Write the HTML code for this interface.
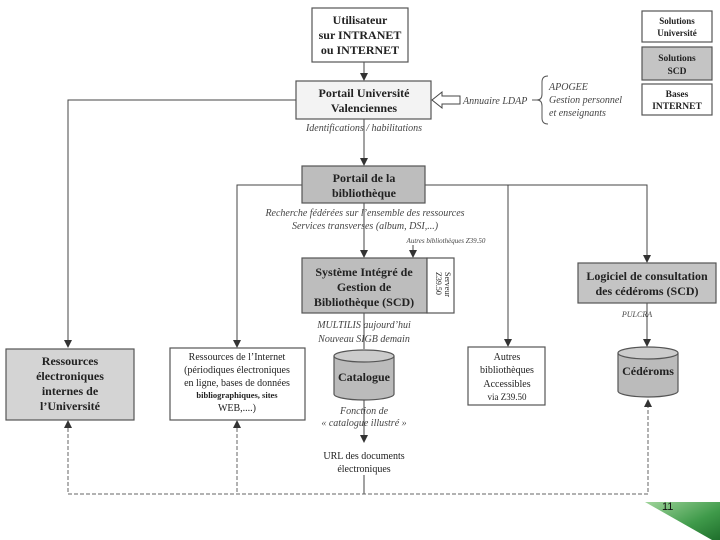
<!DOCTYPE html>
<html><head><meta charset="utf-8"><style>
html,body{margin:0;padding:0;background:#fff;}
svg{display:block;}
text{font-family:"Liberation Serif",serif;fill:#222;}
.b{font-weight:bold;font-size:12px;}
.i{font-style:italic;font-size:10px;fill:#444;}
.n{font-size:10px;}
</style></head><body>
<svg width="720" height="540" viewBox="0 0 720 540" xmlns="http://www.w3.org/2000/svg">
<defs>
<marker id="a" markerWidth="8" markerHeight="8" refX="7" refY="4" orient="auto" markerUnits="userSpaceOnUse"><path d="M0,0 L8,4 L0,8 z" fill="#333"/></marker>
<linearGradient id="g" x1="0" y1="0" x2="1" y2="1"><stop offset="0" stop-color="#9fd49a"/><stop offset="0.6" stop-color="#3f9a4a"/><stop offset="1" stop-color="#1f6f2c"/></linearGradient>
</defs>
<g stroke="#444" stroke-width="1" fill="none">
<line x1="364" y1="62" x2="364" y2="80" marker-end="url(#a)"/>
<line x1="364" y1="119" x2="364" y2="165" marker-end="url(#a)"/>
<line x1="364" y1="203" x2="364" y2="257" marker-end="url(#a)"/>
<line x1="413" y1="245" x2="413" y2="257" marker-end="url(#a)"/>
<line x1="364" y1="313" x2="364" y2="349"/>
<line x1="364" y1="400" x2="364" y2="442" marker-end="url(#a)"/>
<line x1="364" y1="475" x2="364" y2="494"/>
<polyline points="296,100 68,100 68,347" marker-end="url(#a)"/>
<polyline points="302,185 237,185 237,347" marker-end="url(#a)"/>
<polyline points="425,185 647,185 647,262" marker-end="url(#a)"/>
<line x1="508" y1="185" x2="508" y2="346" marker-end="url(#a)"/>
<line x1="647" y1="303" x2="647" y2="346" marker-end="url(#a)"/>
<g stroke-dasharray="4,2" stroke="#666">
<polyline points="68,422 68,494 648,494 648,400"/>
<line x1="237" y1="422" x2="237" y2="494"/>
</g>
</g>
<path d="M68,420 l-4,8 h8z M237,420 l-4,8 h8z M648,399 l-4,8 h8z" fill="#333"/>
<path d="M432,100 L442,92 L442,96 L460,96 L460,104 L442,104 L442,108 Z" fill="#fff" stroke="#444"/>
<g stroke="#555" stroke-width="1.2">
<rect x="312" y="8" width="96" height="54" fill="#fff"/>
<rect x="296" y="81" width="135" height="38" fill="#f3f3f3"/>
<rect x="302" y="166" width="123" height="37" fill="#bdbdbd"/>
<rect x="302" y="258" width="125" height="55" fill="#bdbdbd"/>
<rect x="427" y="258" width="27" height="55" fill="#fff"/>
<rect x="578" y="263" width="138" height="40" fill="#c4c4c4"/>
<rect x="6" y="349" width="128" height="71" fill="#d4d4d4"/>
<rect x="170" y="348" width="135" height="72" fill="#fff"/>
<rect x="468" y="347" width="77" height="58" fill="#fff"/>
<rect x="642" y="11" width="70" height="31" fill="#fff"/>
<rect x="642" y="47" width="70" height="33" fill="#c4c4c4"/>
<rect x="642" y="84" width="70" height="31" fill="#fff"/>
<path d="M334,356 v38 a30,6 0 0 0 60,0 v-38" fill="#bbb"/>
<ellipse cx="364" cy="356" rx="30" ry="6" fill="#ccc"/>
<path d="M618,353 v38 a30,6 0 0 0 60,0 v-38" fill="#bbb"/>
<ellipse cx="648" cy="353" rx="30" ry="6" fill="#ccc"/>
</g>
<path d="M548,76 q-6,0 -6,6 v12 q0,6 -5,6 q5,0 5,6 v12 q0,6 6,6" fill="none" stroke="#555"/>
<line x1="532" y1="100" x2="537" y2="100" stroke="#555"/>
<g text-anchor="middle">
<text class="b" x="360" y="24">Utilisateur</text>
<text class="b" x="360" y="39">sur INTRANET</text>
<text class="b" x="360" y="54">ou INTERNET</text>
<text class="b" x="364" y="97">Portail Université</text>
<text class="b" x="364" y="112">Valenciennes</text>
<text class="i" x="364" y="131">Identifications / habilitations</text>
<text class="b" x="364" y="182">Portail de la</text>
<text class="b" x="364" y="197">bibliothèque</text>
<text class="i" x="365" y="216">Recherche fédérées sur l’ensemble des ressources</text>
<text class="i" x="365" y="229">Services transverses (album, DSI,...)</text>
<text class="i" x="446" y="243" style="font-size:7px">Autres bibliothèques Z39.50</text>
<text class="b" x="364" y="276">Système Intégré de</text>
<text class="b" x="364" y="291">Gestion de</text>
<text class="b" x="364" y="306">Bibliothèque (SCD)</text>
<text class="b" x="647" y="280">Logiciel de consultation</text>
<text class="b" x="647" y="295">des cédéroms (SCD)</text>
<text class="i" x="637" y="317" style="font-size:8px">PULCRA</text>
<text class="i" x="364" y="328">MULTILIS aujourd’hui</text>
<text class="i" x="364" y="342">Nouveau SIGB demain</text>
<text class="b" x="364" y="381">Catalogue</text>
<text class="b" x="648" y="375">Cédéroms</text>
<text class="b" x="70" y="365">Ressources</text>
<text class="b" x="70" y="380">électroniques</text>
<text class="b" x="70" y="395">internes de</text>
<text class="b" x="70" y="410">l’Université</text>
<text class="n" x="237" y="360">Ressources de l’Internet</text>
<text class="n" x="237" y="373">(périodiques électroniques</text>
<text class="n" x="237" y="386">en ligne, bases de données</text>
<text class="n" x="237" y="398" style="font-size:8.5px;font-weight:bold">bibliographiques, sites</text>
<text class="n" x="237" y="411">WEB,....)</text>
<text class="n" x="507" y="360">Autres</text>
<text class="n" x="507" y="373">bibliothèques</text>
<text class="n" x="507" y="387">Accessibles</text>
<text class="n" x="507" y="400" style="font-size:9px">via Z39.50</text>
<text class="i" x="364" y="414">Fonction de</text>
<text class="i" x="364" y="426">« catalogue illustré »</text>
<text class="n" x="364" y="459">URL des documents</text>
<text class="n" x="364" y="472">électroniques</text>
<text class="b" x="677" y="24" style="font-size:9px">Solutions</text>
<text class="b" x="677" y="36" style="font-size:9px">Université</text>
<text class="b" x="677" y="61" style="font-size:9.5px">Solutions</text>
<text class="b" x="677" y="74" style="font-size:9.5px">SCD</text>
<text class="b" x="677" y="97" style="font-size:9.5px">Bases</text>
<text class="b" x="677" y="109" style="font-size:9.5px">INTERNET</text>
</g>
<text class="i" x="463" y="104">Annuaire LDAP</text>
<text class="i" x="549" y="90">APOGEE</text>
<text class="i" x="549" y="103">Gestion personnel</text>
<text class="i" x="549" y="116">et enseignants</text>
<text class="n" transform="translate(445,272) rotate(90)" style="font-size:8px">Serveur</text>
<text class="n" transform="translate(436,272) rotate(90)" style="font-size:8px">Z39.50</text>
<path d="M645,502 L720,502 L720,540 L712,540 Z" fill="url(#g)"/>
<text x="662" y="510" style="font-family:'Liberation Sans',sans-serif;font-size:11px;fill:#111">11</text>
</svg>
</body></html>
